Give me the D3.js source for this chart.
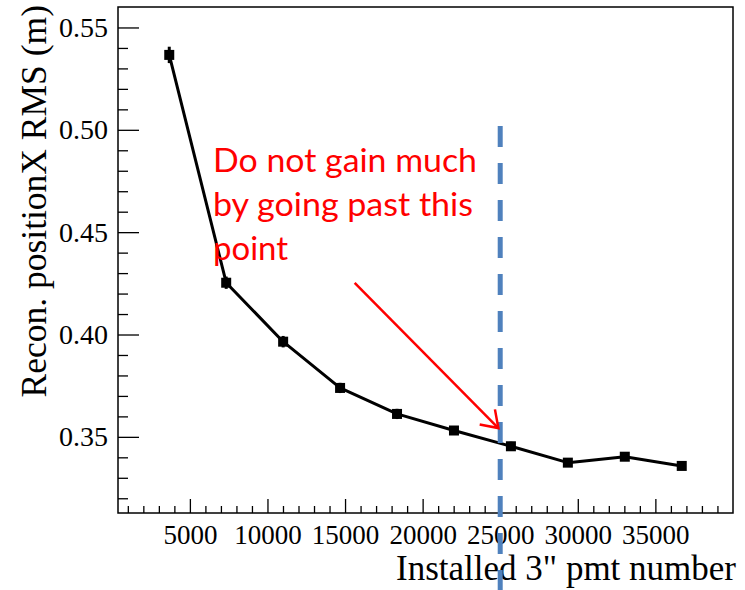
<!DOCTYPE html>
<html>
<head>
<meta charset="utf-8">
<script src="https://cdn.jsdelivr.net/npm/d3@7/dist/d3.min.js"></script>
<style>
  html, body { margin: 0; padding: 0; background: #ffffff; }
  svg { display: block; }
</style>
</head>
<body>
<svg id="chart" width="745" height="590"></svg>
<script>
// Installed 3" PMT count vs reconstructed position-X RMS
const pmtCount   = [3670, 7340, 11010, 14680, 18350, 22020, 25690, 29360, 33030, 36700];
const rmsValues  = [0.5366, 0.4253, 0.3965, 0.3739, 0.3612, 0.3531, 0.3454, 0.3374, 0.3403, 0.3358];
const rmsErrors  = [0.0040, 0.0030, 0.0028, 0.0025, 0.0025, 0.0022, 0.0022, 0.0012, 0.0020, 0.0012];

const xTickValues = [5000, 10000, 15000, 20000, 25000, 30000, 35000];
const yTickValues = [0.35, 0.40, 0.45, 0.50, 0.55];

const cutLine   = 25000;          // suggested stopping point
const noteLines = ["Do not gain much", "by going past this", "point"];

const W = 745, H = 590;
const frame = { left: 118, right: 733, top: 7, bottom: 513 };

const svg = d3.select("#chart");

const xPad = 0.1 * (d3.max(pmtCount) - d3.min(pmtCount));
const x = d3.scaleLinear()
  .domain([d3.min(pmtCount) - xPad, d3.max(pmtCount) + xPad])
  .range([frame.left, frame.right]);
const y = d3.scaleLinear()
  .domain([0.3128, 0.5600])
  .range([frame.bottom, frame.top]);

const serif = "'Liberation Serif', 'Times New Roman', serif";

// minor ticks
const xMinor = d3.range(1000, 40000, 1000).filter(v => v % 5000 !== 0 && v > x.domain()[0] && v < x.domain()[1]);
const yMinor = d3.range(32, 56, 1).map(v => v / 100).filter(v => Math.round(v * 100) % 5 !== 0);

svg.append("g")
  .attr("transform", `translate(0,${frame.bottom})`)
  .call(d3.axisBottom(x).tickValues(xMinor).tickFormat("").tickSizeInner(-7).tickSizeOuter(0))
  .call(g => g.select(".domain").remove())
  .selectAll("line").attr("stroke", "#000").attr("stroke-width", 1.3);

svg.append("g")
  .attr("transform", `translate(${frame.left},0)`)
  .call(d3.axisLeft(y).tickValues(yMinor).tickFormat("").tickSizeInner(-10).tickSizeOuter(0))
  .call(g => g.select(".domain").remove())
  .selectAll("line").attr("stroke", "#000").attr("stroke-width", 1.3);

// major ticks + labels
const xAxis = svg.append("g")
  .attr("transform", `translate(0,${frame.bottom})`)
  .call(d3.axisBottom(x).tickValues(xTickValues).tickFormat(d3.format("d"))
    .tickSizeInner(-14).tickSizeOuter(0).tickPadding(12));
xAxis.select(".domain").remove();
xAxis.selectAll("line").attr("stroke", "#000").attr("stroke-width", 1.3);
xAxis.selectAll("text").attr("fill", "#000").style("font-family", serif).style("font-size", "27px");

const yAxis = svg.append("g")
  .attr("transform", `translate(${frame.left},0)`)
  .call(d3.axisLeft(y).tickValues(yTickValues).tickFormat(d3.format(".2f"))
    .tickSizeInner(-21).tickSizeOuter(0).tickPadding(10));
yAxis.select(".domain").remove();
yAxis.selectAll("line").attr("stroke", "#000").attr("stroke-width", 1.3);
yAxis.selectAll("text").attr("fill", "#000").style("font-family", serif).style("font-size", "28px");

// frame
svg.append("rect")
  .attr("x", frame.left).attr("y", frame.top)
  .attr("width", frame.right - frame.left).attr("height", frame.bottom - frame.top)
  .attr("fill", "none").attr("stroke", "#000").attr("stroke-width", 1.5);

// axis titles
svg.append("text")
  .attr("transform", `translate(46,5) rotate(-90)`)
  .attr("text-anchor", "end")
  .style("font-family", serif).style("font-size", "35.5px").attr("fill", "#000")
  .text("Recon. positionX RMS (m)");

svg.append("text")
  .attr("x", 736).attr("y", 580)
  .attr("text-anchor", "end")
  .style("font-family", serif).style("font-size", "35px").attr("fill", "#000")
  .text("Installed 3\" pmt number");

// data: line, error bars, markers
const pts = pmtCount.map((n, i) => ({ n, v: rmsValues[i], e: rmsErrors[i] }));

svg.append("path")
  .datum(pts)
  .attr("fill", "none").attr("stroke", "#000").attr("stroke-width", 3)
  .attr("stroke-linejoin", "round")
  .attr("d", d3.line().x(d => x(d.n)).y(d => y(d.v)));

svg.append("g").selectAll("line").data(pts).join("line")
  .attr("x1", d => x(d.n)).attr("x2", d => x(d.n))
  .attr("y1", d => y(d.v - d.e)).attr("y2", d => y(d.v + d.e))
  .attr("stroke", "#000").attr("stroke-width", 3);

const ms = 10;
svg.append("g").selectAll("rect").data(pts).join("rect")
  .attr("x", d => x(d.n) - ms / 2).attr("y", d => y(d.v) - ms / 2)
  .attr("width", ms).attr("height", ms).attr("fill", "#000");

// dashed marker line at the suggested cut
svg.append("line")
  .attr("x1", x(cutLine)).attr("x2", x(cutLine))
  .attr("y1", y(0.5019)).attr("y2", H)
  .attr("stroke", "#4f81bd").attr("stroke-width", 5)
  .attr("stroke-dasharray", "21,16");

// annotation text
const noteFont = "Lato, 'Open Sans', 'Liberation Sans', sans-serif";
const noteWidths = [264, 260, 75];
const note = svg.append("g");
noteLines.forEach((t, i) => {
  note.append("text")
    .attr("x", 213).attr("y", 172 + i * 43.8)
    .attr("fill", "#ff0000")
    .style("font-family", noteFont).style("font-size", "33px")
    .attr("textLength", noteWidths[i]).attr("lengthAdjust", "spacingAndGlyphs")
    .text(t);
});

// arrow pointing at the cut
const a0 = [x(15620), y(0.4252)];
const a1 = [x(24880), y(0.3543)];
svg.append("line")
  .attr("x1", a0[0]).attr("y1", a0[1]).attr("x2", a1[0]).attr("y2", a1[1])
  .attr("stroke", "#ff0000").attr("stroke-width", 2.5);
const ang = Math.atan2(a1[1] - a0[1], a1[0] - a0[0]);
const headLen = 19, headAng = 0.6;
const arm = s => [a1[0] - headLen * Math.cos(ang + s * headAng), a1[1] - headLen * Math.sin(ang + s * headAng)];
svg.append("path")
  .attr("d", d3.line()([arm(1), a1, arm(-1)]))
  .attr("fill", "none").attr("stroke", "#ff0000").attr("stroke-width", 2.5)
  .attr("stroke-linejoin", "miter");
</script>
</body>
</html>
